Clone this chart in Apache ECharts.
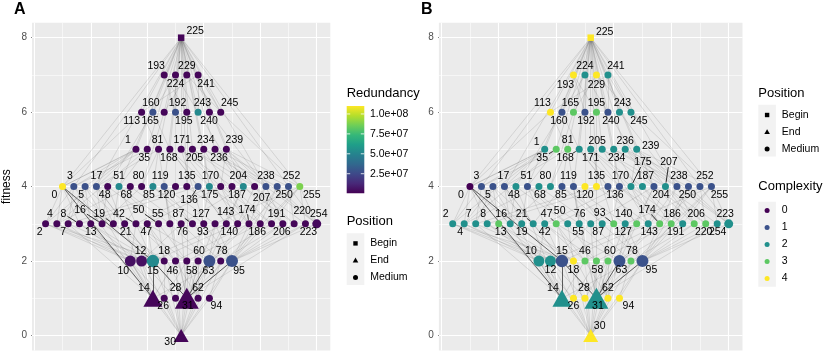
<!DOCTYPE html>
<html>
<head>
<meta charset="utf-8">
<script src="https://cdn.jsdelivr.net/npm/echarts@6/dist/echarts.min.js"></script>
<style>
  html, body { margin: 0; padding: 0; background: #fff; }
  #chart { width: 831px; height: 354px; }
</style>
</head>
<body>
<div id="chart"></div>
<script>
// genotypes grouped by fitness level, ordered left to right
const fit0 = [30];
const fit1 = [14, 26, 28, 31, 62, 94];
const fit2 = [10, 12, 15, 18, 46, 58, 60, 63, 78, 95];
const fit3 = [2, 4, 7, 8, 13, 16, 19, 21, 42, 47, 50, 55, 76, 87, 93, 127, 140, 143, 174, 186, 191, 206, 220, 223, 254];
const fit4 = [0, 3, 5, 17, 48, 51, 68, 80, 85, 119, 120, 135, 136, 170, 175, 187, 204, 207, 238, 250, 252, 255];
const fit5 = [1, 35, 81, 168, 171, 205, 234, 236, 239];
const fit6 = [113, 160, 165, 192, 195, 240, 243, 245];
const fit7 = [193, 224, 229, 241];
const fit8 = [225];

// redundancy (panel A), same order as above
const red0 = [2e6];
const red1 = [2e6, 2e6, 2e6, 2e6, 2e6, 2e6];
const red2 = [5e6, 5e6, 5.2e7, 2e6, 2e6, 2e6, 2e6, 2.8e7, 2e6, 2.8e7];
const red3 = [2e6, 2e6, 2e6, 2e6, 2e6, 2e6, 2e6, 2e6, 2e6, 2e6, 2e6, 2e6, 2e6, 2e6, 2e6, 2e6, 2e6, 2e6, 2e6, 2e6, 2e6, 2e6, 2e6, 2e6, 3e6];
const red4 = [1.1e8, 2.8e7, 2.8e7, 2.8e7, 2e6, 5.2e7, 2e6, 2e6, 5.2e7, 2.8e7, 2e6, 2e6, 2.8e7, 5.2e7, 2e6, 2e6, 5.2e7, 2e6, 2.8e7, 2.8e7, 2.8e7, 8.8e7];
const red5 = [2e6, 2e6, 2e6, 2e6, 2e6, 2e6, 2e6, 2e6, 2e6];
const red6 = [2e6, 2.8e7, 2e6, 2.8e7, 2e6, 5.2e7, 2e6, 2e6];
const red7 = [2e6, 2e6, 2e6, 2e6];
const red8 = [2e6];

// complexity (panel B)
const cx0 = [4];
const cx1 = [2, 4, 4, 2, 4, 4];
const cx2 = [2, 2, 1, 4, 3, 3, 3, 1, 3, 1];
const cx3 = [2, 2, 2, 2, 3, 2, 2, 2, 2, 3, 2, 2, 2, 2, 3, 2, 3, 2, 3, 3, 2, 3, 3, 2, 2];
const cx4 = [0, 1, 1, 1, 2, 1, 2, 2, 1, 1, 4, 4, 1, 1, 2, 2, 1, 2, 1, 1, 1, 1];
const cx5 = [2, 3, 3, 2, 2, 2, 2, 2, 2];
const cx6 = [4, 1, 3, 1, 3, 1, 2, 2];
const cx7 = [4, 2, 4, 2];
const cx8 = [4];

const beginNodes = [225];
const endNodes = [14, 31, 30];

// transitions between genotypes (faint)
const edges = [
  [0,1],[0,2],[0,4],[0,8],[0,16],[1,3],[1,5],[1,17],[2,3],[2,10],[2,18],[3,7],[3,19],[3,35],
  [4,5],[4,12],[4,68],[5,7],[5,13],[5,21],[7,15],[7,135],[8,10],[8,12],[8,136],
  [10,14],[10,26],[10,42],[12,13],[12,14],[12,28],[12,76],[12,140],[13,15],
  [14,15],[14,30],[14,46],[14,78],[15,31],[15,47],[15,143],[16,17],[16,18],[16,48],[16,80],
  [17,19],[17,21],[17,81],[18,19],[18,26],[18,50],[19,51],[21,85],[26,30],[26,58],
  [28,30],[28,60],[30,31],[30,62],[30,94],[31,63],[31,95],[35,51],[42,46],[42,58],[42,170],
  [46,47],[46,62],[46,174],[47,63],[47,175],[48,50],[50,51],[50,58],[51,55],[55,63],[55,119],
  [58,62],[58,186],[60,62],[62,63],[63,127],[63,191],[68,76],[76,78],[76,204],[78,94],[78,206],
  [80,81],[81,85],[81,113],[85,87],[85,93],[87,95],[87,119],[93,95],[94,95],[95,127],[95,223],
  [113,241],[119,127],[127,255],[135,143],[136,140],[136,168],[140,204],[143,175],[143,207],
  [160,168],[160,224],[165,229],[168,170],[170,171],[170,174],[170,186],[170,234],[171,175],[171,187],
  [174,175],[174,238],[175,191],[175,239],[186,187],[186,250],[187,191],[191,255],
  [192,193],[192,224],[193,195],[193,225],[204,205],[204,206],[204,220],[204,236],[205,207],
  [206,207],[206,238],[207,223],[207,239],[220,252],[223,255],[224,225],[224,240],[225,229],[225,241],
  [229,245],[234,238],[234,250],[236,238],[236,252],[238,239],[238,254],[239,255],[240,241],
  [241,243],[241,245],[250,254],[252,254],[254,255],
  // long jumps from the begin genotype
  [225,0],[225,255],[225,3],[225,252],[225,113],[225,160],[225,165],[225,192],[225,195],[225,240],
  [225,243],[225,245],[225,1],[225,35],[225,81],[225,168],[225,171],[225,205],[225,234],[225,236],
  [225,239],[225,17],[225,51],[225,119],[225,135],[225,170],[225,204],[225,238],
  // long jumps towards the end genotypes
  [30,10],[30,12],[30,15],[30,18],[30,46],[30,58],[30,60],[30,63],[30,78],[30,95],
  [3,14],[5,14],[17,15],[48,14],[51,15],[119,31],[135,31],[170,31],[204,31],[238,31],
  [250,95],[252,63],[255,95],[255,31],[2,12],[4,10],[7,14],[13,14],[21,15],[47,31],[55,31],
  [76,31],[127,31],[140,63],[174,95],[186,95],[206,95],[220,95],[223,31],[254,95],
  [1,2],[1,0],[35,4],[81,55],[168,140],[171,93],[205,143],[234,174],[236,220],[239,254],
  [113,0],[160,48],[165,80],[192,120],[195,135],[240,204],[243,238],[245,255]
];
// stronger transitions (dark lines)
const strongEdges = [[15,14],[15,31],[63,31],[95,31],[0,14],[0,15]];

const redTicks = [2.5e7, 5e7, 7.5e7, 1e8];
const redTickLabels = ['2.5e+07', '5.0e+07', '7.5e+07', '1.0e+08'];
const redMin = 4e5, redMax = 1.1e8;
const complexityLevels = [0, 1, 2, 3, 4];
const positionLevels = ['Begin', 'End', 'Medium'];
const fitnessTicks = [0, 2, 4, 6, 8];

// ---- styling ----
const FONT = "'Liberation Sans', Arial, Helvetica, sans-serif";
const viridis = ['#440154', '#482878', '#3e4989', '#31688e', '#26828e', '#1f9e89', '#35b779', '#6ece58', '#b5de2b', '#fde725'];
const cxColors = ['#440154', '#3b528b', '#21908c', '#5dc863', '#fde725'];

const symbolSizes = {
  225: 6.5, 10: 11, 12: 11, 15: 12.5, 63: 12, 95: 12, 254: 9,
  14: [19, 17], 31: [24, 21], 30: [15, 13]
};

// label offsets [dx, dy] in px, as placed in each panel
const labA = {
  225: [14, -7],
  193: [-8, -9], 224: [0, 9], 229: [0, -9], 241: [8, 9],
  113: [-10, 9], 160: [-2, -9], 165: [-14, 9], 192: [2, -9], 195: [-3, 9], 240: [11, 9], 243: [-7, -9], 245: [9, -9],
  1: [-8, -9], 35: [-3, 9], 81: [-1, -9], 168: [-1, 9], 171: [1, -9], 205: [2, 9], 234: [2, -9], 236: [4, 9], 239: [8, -9],
  0: [-8, 9], 3: [-4, -10], 5: [-4, 9], 17: [0, -10], 48: [-3, 9], 51: [0, -10], 68: [-4, 9], 80: [-3, -10], 85: [-4, 9],
  119: [-4, -10], 120: [-9, 9], 135: [0, -10], 136: [-9, 14], 170: [1, -10], 175: [-11, 9], 187: [5, 9], 204: [-5, -10],
  207: [7, 12], 238: [0, -10], 250: [7, 9], 252: [3, -10], 255: [12, 9],
  2: [-6, 8.5], 4: [-7, -10], 7: [-5, 8.5], 8: [-16, -10], 13: [0, 8.5], 16: [-22, -14], 19: [-14, -10], 21: [1, 8.5],
  42: [-17, -10], 47: [-1, 8.5], 50: [-20, -14], 55: [-12, -10], 76: [1, 8.5], 87: [-14, -10], 93: [-1, 8.5],
  127: [-14, -10], 140: [3, 8.5], 143: [-12, -12], 174: [-2, -14], 186: [-3, 8.5], 191: [5, -10], 206: [-1, 8.5],
  220: [8, -13], 223: [3, 8.5], 254: [2, -10],
  10: [-7, 10], 12: [-1, -10], 15: [0, 10], 18: [0, -10], 46: [-3, 10], 58: [5, 10], 60: [1, -10], 63: [-1, 10], 78: [1, -10], 95: [7, 10],
  14: [-9, -10], 26: [-1, 8], 28: [0, -10], 31: [1, 8], 62: [0, -10], 94: [7, 8],
  30: [-11, 7]
};
const labB = {
  225: [14, -6],
  193: [-8, 10], 224: [0, -9], 229: [0, 10], 241: [8, -9],
  113: [-8, -9], 160: [-3, 9], 165: [-3, -9], 192: [1, 9], 195: [0, -9], 240: [3, 9], 243: [3, -9], 245: [8, 9],
  1: [-8, -7], 35: [-14, 8.5], 81: [0, -9], 168: [-14, 8.5], 171: [0, 8.5], 205: [-5, -8.5], 234: [3, 8.5], 236: [0, -8.5], 239: [14, -3.5],
  0: [-9, 9], 3: [-5, -10], 5: [-5, 9], 17: [-1, -10], 48: [-2, 9], 51: [-1, -10], 68: [1, 9], 80: [-5, -10], 85: [-1, 9],
  119: [-5, -10], 120: [0, 9], 135: [0, -10], 136: [7, 9], 170: [1, -10], 175: [12, -24], 187: [3, -10], 204: [7, 9],
  207: [3.5, -24], 238: [2, -10], 250: [-1, 9], 252: [5, -10], 255: [8, 9],
  2: [-7, -10], 4: [-4, 8.5], 7: [-7, -10], 8: [-4, -10], 13: [2, 8.5], 16: [-9, -10], 19: [0, 8.5], 21: [-11.5, -10],
  42: [0, 8.5], 47: [-9.5, -10], 50: [-8, -13], 55: [-1, 8.5], 76: [-11, -10], 87: [-4, 8.5], 93: [-14, -11],
  127: [-2, 8.5], 140: [-13, -10], 143: [1, 8.5], 174: [-12.5, -14], 186: [1, -10], 191: [-7, 8.5], 206: [2, -10],
  220: [-2, 8.5], 223: [8, -10], 254: [-11, 8.5],
  10: [-8, -10], 12: [0, 9], 15: [0, -10], 18: [0, 9], 46: [0, -10], 58: [1, 9], 60: [2, -10], 63: [2, 9], 78: [1, -10], 95: [9, 9],
  14: [-9, -10], 26: [0, 8], 28: [-1, -10], 31: [1.5, 8], 62: [0, -10], 94: [9, 8],
  30: [9, -9]
};
// labels that get a leader segment back to their point
const leadA = [8, 16, 19, 42, 50, 87, 174, 136];
const leadB = [35, 168, 21, 47, 93, 174, 175, 207];

// ---- build node table ----
const fitLevels = [fit0, fit1, fit2, fit3, fit4, fit5, fit6, fit7, fit8];
const redLevels = [red0, red1, red2, red3, red4, red5, red6, red7, red8];
const cxLevels = [cx0, cx1, cx2, cx3, cx4, cx5, cx6, cx7, cx8];
const nodes = [];
const pos = {};
fitLevels.forEach((ids, f) => {
  ids.forEach((id, i) => {
    const x = 13 + i - (ids.length - 1) / 2;
    nodes.push({ id, x, y: f, red: redLevels[f][i], cx: cxLevels[f][i] });
    pos[id] = [x, f];
  });
});
// end points are drawn last so the triangles sit on top of their neighbours
const drawOrder = nodes.filter(n => !endNodes.includes(n.id)).concat(nodes.filter(n => endNodes.includes(n.id)));

const symbolOf = id => beginNodes.includes(id) ? 'rect' : endNodes.includes(id) ? 'triangle' : 'circle';

const nodeData = lab => drawOrder.map(n => ({
  name: String(n.id),
  value: [n.x, n.y, n.red, n.cx],
  symbol: symbolOf(n.id),
  symbolSize: symbolSizes[n.id] || 7,
  label: { offset: lab[n.id] || [0, -10] }
}));

const edgeData = edges.map(e => ({ coords: [pos[e[0]], pos[e[1]]] }));
const strongData = strongEdges.map(e => ({ coords: [pos[e[0]], pos[e[1]]] }));

// ggplot-like panel grid lines
const gridLines = () => {
  const out = [];
  [0, 5, 10, 15, 20, 25].forEach(v => out.push({ xAxis: v, lineStyle: { width: 1.1 } }));
  [2.5, 7.5, 12.5, 17.5, 22.5].forEach(v => out.push({ xAxis: v, lineStyle: { width: 0.55 } }));
  fitnessTicks.forEach(v => out.push({ yAxis: v, lineStyle: { width: 1.1 } }));
  [1, 3, 5, 7].forEach(v => out.push({ yAxis: v, lineStyle: { width: 0.55 } }));
  return out;
};

const panels = [
  { left: 28.3, width: 302, lab: labA, lead: leadA },
  { left: 438.9, width: 303.6, lab: labB, lead: leadB }
];
const TOP = 22.8, HEIGHT = 327.6;

const grids = panels.map(p => ({
  left: p.left, top: TOP, width: p.width, height: HEIGHT,
  show: true, backgroundColor: '#EBEBEB', borderWidth: 0, containLabel: false
}));
const xAxes = panels.map((p, i) => ({
  type: 'value', gridIndex: i, min: -0.2, max: 26.2, show: false
}));
const yAxes = panels.map((p, i) => ({
  type: 'value', gridIndex: i, min: -0.4, max: 8.4,
  name: i === 0 ? 'fitness' : '', nameLocation: 'middle', nameGap: 19, nameRotate: 90,
  nameTextStyle: { fontFamily: FONT, fontSize: 12, color: '#000' },
  axisLine: { show: false },
  axisTick: { show: true, length: 3, customValues: fitnessTicks, lineStyle: { color: '#333', width: 0.8 } },
  axisLabel: { show: true, customValues: fitnessTicks, margin: 5, fontFamily: FONT, fontSize: 10, color: '#4D4D4D' },
  splitLine: { show: false }
}));

const series = [];
panels.forEach((p, i) => {
  series.push({
    type: 'scatter', xAxisIndex: i, yAxisIndex: i, data: [], silent: true, zlevel: 0, z: 0,
    markLine: {
      silent: true, symbol: 'none', animation: false, label: { show: false },
      lineStyle: { color: '#FFFFFF', type: 'solid' },
      emphasis: { disabled: true },
      data: gridLines()
    }
  });
  series.push({
    type: 'lines', coordinateSystem: 'cartesian2d', xAxisIndex: i, yAxisIndex: i,
    data: edgeData, silent: true, zlevel: 1, z: 1, animation: false,
    lineStyle: { color: '#4d4d4d', opacity: 0.22, width: 0.7, curveness: 0 }
  });
  series.push({
    type: 'lines', coordinateSystem: 'cartesian2d', xAxisIndex: i, yAxisIndex: i,
    data: strongData, silent: true, zlevel: 1, z: 1, animation: false,
    lineStyle: { color: '#222', opacity: 0.75, width: 0.9, curveness: 0 }
  });
  series.push({
    type: 'scatter', xAxisIndex: i, yAxisIndex: i, zlevel: 1, z: 2, animation: false,
    data: nodeData(p.lab),
    itemStyle: { opacity: 1 },
    label: {
      show: true, position: 'inside', color: '#000', fontFamily: FONT, fontSize: 10.5,
      formatter: d => d.name
    },
    emphasis: { disabled: true }
  });
});

// ---- legends drawn ggplot style ----
const graphics = [];
const txt = (x, y, s, size, weight) => graphics.push({
  type: 'text', x, y, silent: true,
  style: { text: s, fontFamily: FONT, fontSize: size, fontWeight: weight || 'normal', fill: '#000', textVerticalAlign: 'middle' }
});

txt(14, 10, 'A', 16, 'bold');
txt(421, 10, 'B', 16, 'bold');

// Redundancy colour bar
const cb = { x: 346.7, y: 106, w: 17.6, h: 87.3 };
txt(346.7, 93.3, 'Redundancy', 13);
graphics.push({
  type: 'rect', silent: true,
  shape: { x: cb.x, y: cb.y, width: cb.w, height: cb.h },
  style: { fill: new echarts.graphic.LinearGradient(0, 1, 0, 0, viridis.map((c, k) => ({ offset: k / (viridis.length - 1), color: c }))) }
});
redTicks.forEach((v, k) => {
  const yy = cb.y + cb.h - (v - redMin) / (redMax - redMin) * cb.h;
  graphics.push({ type: 'line', silent: true, shape: { x1: cb.x, y1: yy, x2: cb.x + 3.5, y2: yy }, style: { stroke: '#fff', lineWidth: 0.8 } });
  graphics.push({ type: 'line', silent: true, shape: { x1: cb.x + cb.w - 3.5, y1: yy, x2: cb.x + cb.w, y2: yy }, style: { stroke: '#fff', lineWidth: 0.8 } });
  txt(370, yy, redTickLabels[k], 10.5);
});

// Position legend (used twice)
const positionLegend = (x0, yTitle) => {
  txt(x0, yTitle, 'Position', 13);
  graphics.push({ type: 'rect', silent: true, shape: { x: x0, y: yTitle + 11.5, width: 17.6, height: 51.7 }, style: { fill: '#F2F2F2' } });
  positionLevels.forEach((name, k) => {
    const yy = yTitle + 21.7 + k * 17;
    const cx = x0 + 8.8;
    if (name === 'Begin') graphics.push({ type: 'rect', silent: true, shape: { x: cx - 2.2, y: yy - 2.2, width: 4.4, height: 4.4 }, style: { fill: '#000' } });
    else if (name === 'End') graphics.push({ type: 'polygon', silent: true, shape: { points: [[cx, yy - 2.8], [cx - 2.8, yy + 2], [cx + 2.8, yy + 2]] }, style: { fill: '#000' } });
    else graphics.push({ type: 'circle', silent: true, shape: { cx, cy: yy, r: 2.5 }, style: { fill: '#000' } });
    txt(x0 + 23.5, yy, name, 10.5);
  });
};
positionLegend(346.7, 221.7);
positionLegend(758.3, 93.3);

// Complexity legend
txt(758.3, 186.7, 'Complexity', 13);
graphics.push({ type: 'rect', silent: true, shape: { x: 758.3, y: 201.7, width: 17.6, height: 85 }, style: { fill: '#F2F2F2' } });
complexityLevels.forEach((c, k) => {
  const yy = 210.5 + k * 17;
  graphics.push({ type: 'circle', silent: true, shape: { cx: 767.1, cy: yy, r: 2.5 }, style: { fill: cxColors[c] } });
  txt(781.8, yy, String(c), 10.5);
});

const chart = echarts.init(document.getElementById('chart'), null, { renderer: 'canvas' });
chart.setOption({
  animation: false,
  backgroundColor: '#FFFFFF',
  grid: grids,
  xAxis: xAxes,
  yAxis: yAxes,
  visualMap: [
    {
      type: 'continuous', show: false, seriesIndex: 3, dimension: 2,
      min: redMin, max: redMax, inRange: { color: viridis }
    },
    {
      type: 'piecewise', show: false, seriesIndex: 7, dimension: 3,
      pieces: complexityLevels.map(c => ({ value: c, color: cxColors[c] }))
    }
  ],
  series
});

// label leader segments (ggrepel style), placed from the axis scales
panels.forEach((p, i) => {
  p.lead.forEach(id => {
    const c = chart.convertToPixel({ gridIndex: i }, pos[id]);
    const off = p.lab[id];
    const len = Math.hypot(off[0], off[1]);
    const hw = String(id).length * 2.9 + 1, hh = 4.5;
    const f = Math.min(hw / Math.abs(off[0] || 1e-6), hh / Math.abs(off[1] || 1e-6));
    graphics.push({
      type: 'line', silent: true, zlevel: 1, z: 50,
      shape: {
        x1: c[0] + off[0] * (4 / len), y1: c[1] + off[1] * (4 / len),
        x2: c[0] + off[0] * (1 - f), y2: c[1] + off[1] * (1 - f)
      },
      style: { stroke: '#000', lineWidth: 0.8 }
    });
  });
});
chart.setOption({ graphic: graphics });
</script>
</body>
</html>
